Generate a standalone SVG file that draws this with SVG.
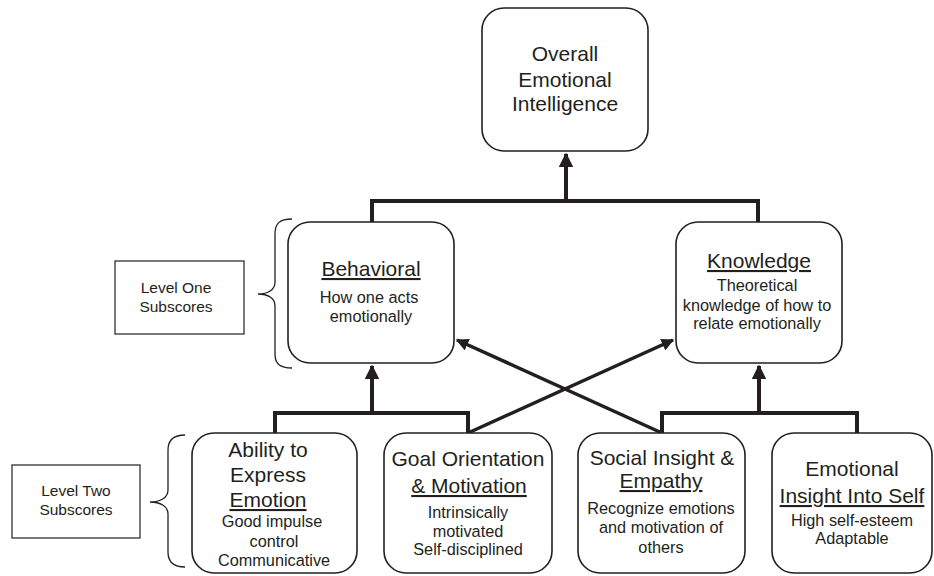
<svg xmlns="http://www.w3.org/2000/svg" width="934" height="576" viewBox="0 0 934 576">
<defs>
<style>
.box{fill:#fff;stroke:#231f20;stroke-width:1.6}
.lbl{fill:#fff;stroke:#231f20;stroke-width:1.2}
.conn{fill:none;stroke:#231f20;stroke-width:4;stroke-linejoin:miter}
.diag{fill:none;stroke:#231f20;stroke-width:3.5}
.brace{fill:none;stroke:#231f20;stroke-width:1.3}
text{font-family:"Liberation Sans",Arial,sans-serif;fill:#231f20;text-anchor:middle}
.t{font-size:21px}
.s{font-size:16.3px}
.l{font-size:15.5px}
.u{text-decoration:underline}
</style>
<marker id="ah" viewBox="0 0 10 10" refX="9" refY="5" markerWidth="3.6" markerHeight="3.6" markerUnits="strokeWidth" orient="auto">
<path d="M0,0 L10,5 L0,10 z" fill="#231f20"/>
</marker>
</defs>
<rect width="934" height="576" fill="#fff"/>

<g id="connectors">
<path class="conn" d="M372,222 V201 H758 V222"/>
<line class="conn" x1="566" y1="201" x2="566" y2="154" marker-end="url(#ah)"/>
<path class="conn" d="M275,433 V413 H468 V433"/>
<line class="conn" x1="372" y1="413" x2="372" y2="366" marker-end="url(#ah)"/>
<path class="conn" d="M662,433 V413 H857 V433"/>
<line class="conn" x1="759" y1="413" x2="759" y2="366" marker-end="url(#ah)"/>
<line class="diag" x1="468" y1="433" x2="673" y2="340" marker-end="url(#ah)"/>
<line class="diag" x1="662" y1="433" x2="457" y2="340" marker-end="url(#ah)"/>
</g>

<g id="overall">
<rect class="box" x="482" y="8" width="166" height="143" rx="22"/>
<text class="t" x="565" y="61">Overall</text>
<text class="t" x="565" y="87">Emotional</text>
<text class="t" x="565" y="111">Intelligence</text>
</g>

<g id="behavioral">
<rect class="box" x="288" y="222" width="166" height="141" rx="22"/>
<text class="t u" x="371" y="276">Behavioral</text>
<text class="s" x="369" y="303">How one acts</text>
<text class="s" x="371" y="322">emotionally</text>
</g>

<g id="knowledge">
<rect class="box" x="676" y="222" width="166" height="141" rx="22"/>
<text class="t u" x="759" y="268">Knowledge</text>
<text class="s" x="757" y="291">Theoretical</text>
<text class="s" x="757" y="311">knowledge of how to</text>
<text class="s" x="757" y="329">relate emotionally</text>
</g>

<g id="level-one">
<rect class="lbl" x="115" y="261" width="129" height="73"/>
<text class="l" x="176" y="293">Level One</text>
<text class="l" x="176" y="312">Subscores</text>
<path class="brace" d="M292,219 C280,219 275,223 275,234 L275,282 C275,290 268,294 258,294 C268,294 275,298 275,306 L275,354 C275,364 280,368 292,368"/>
</g>

<g id="level-two">
<rect class="lbl" x="12" y="465" width="128" height="73"/>
<text class="l" x="76" y="496">Level Two</text>
<text class="l" x="76" y="515">Subscores</text>
<path class="brace" d="M185,435 C173,435 168,440 168,450 L168,490 C168,498 160,502 150,502 C160,502 168,506 168,514 L168,552 C168,562 173,567 185,567"/>
</g>

<g id="ability">
<rect class="box" x="192" y="433" width="165" height="140" rx="22"/>
<text class="t" x="268" y="457">Ability to</text>
<text class="t" x="268" y="482">Express</text>
<text class="t u" x="268" y="507">Emotion</text>
<text class="s" x="272" y="527">Good impulse</text>
<text class="s" x="274" y="547">control</text>
<text class="s" x="274" y="566">Communicative</text>
</g>

<g id="goal">
<rect class="box" x="384" y="433" width="168" height="140" rx="22"/>
<text class="t" x="468" y="466">Goal Orientation</text>
<text class="t u" x="469" y="493">&amp; Motivation</text>
<text class="s" x="468" y="518">Intrinsically</text>
<text class="s" x="468" y="537">motivated</text>
<text class="s" x="468" y="555">Self-disciplined</text>
</g>

<g id="social">
<rect class="box" x="578" y="433" width="167" height="140" rx="22"/>
<text class="t" x="662" y="465">Social Insight &amp;</text>
<text class="t u" x="661" y="488">Empathy</text>
<text class="s" x="661" y="514">Recognize emotions</text>
<text class="s" x="661" y="533">and motivation of</text>
<text class="s" x="661" y="553">others</text>
</g>

<g id="emotional">
<rect class="box" x="772" y="433" width="160" height="140" rx="22"/>
<text class="t" x="852" y="476">Emotional</text>
<text class="t u" x="852" y="503">Insight Into Self</text>
<text class="s" x="852" y="526">High self-esteem</text>
<text class="s" x="852" y="544">Adaptable</text>
</g>
</svg>
